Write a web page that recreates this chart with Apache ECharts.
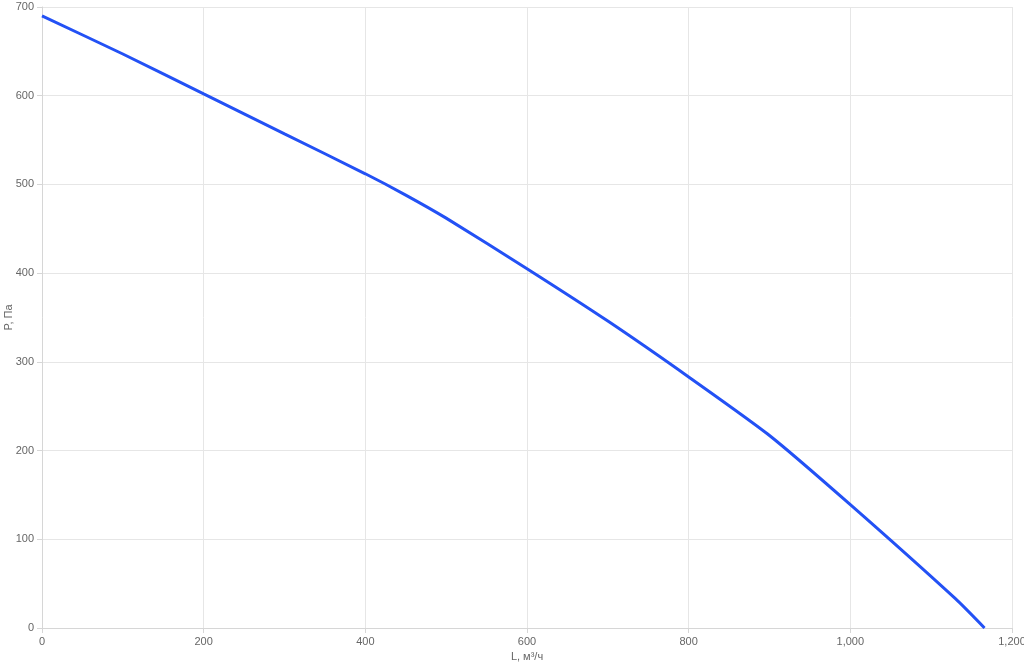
<!DOCTYPE html>
<html>
<head>
<meta charset="utf-8">
<script src="https://cdn.jsdelivr.net/npm/echarts@6/dist/echarts.min.js"></script>
<style>
  html, body { margin: 0; padding: 0; background: #fff; }
  #chart { width: 1024px; height: 666px; }
</style>
</head>
<body>
<div id="chart"></div>
<script>
// расход, м³/ч
const flow = [0, 100, 200, 300, 400, 450, 500, 600, 700, 800, 900, 1000, 1130, 1166]
// давление, Па
const pressure = [690, 647, 602, 557, 512, 488, 462, 405, 346, 283, 217, 139, 33, 0]

const gridColor = '#e6e6e6'
const labelColor = '#666'

const chart = echarts.init(document.getElementById('chart'))
chart.setOption({
  animation: false,
  grid: { left: 42, right: 12, top: 7, bottom: 38, containLabel: false, outerBoundsMode: 'none' },
  xAxis: {
    type: 'value',
    min: 0,
    max: 1200,
    interval: 200,
    name: 'L, м³/ч',
    nameLocation: 'middle',
    nameGap: 23,
    nameMoveOverlap: false,
    nameTextStyle: { color: labelColor, fontSize: 11, fontFamily: 'Arial' },
    axisLine: { show: true, lineStyle: { color: '#d6d6d6' } },
    axisTick: { show: true, length: 5, lineStyle: { color: '#d6d6d6' } },
    axisLabel: {
      color: labelColor, fontSize: 11, fontFamily: 'Arial', margin: 8,
      formatter: v => v.toLocaleString('en-US')
    },
    splitLine: { show: true, lineStyle: { color: gridColor } }
  },
  yAxis: {
    type: 'value',
    min: 0,
    max: 700,
    interval: 100,
    name: 'P, Па',
    nameLocation: 'middle',
    nameGap: 28,
    nameMoveOverlap: false,
    nameTextStyle: { color: labelColor, fontSize: 11, fontFamily: 'Arial' },
    axisLine: { show: true, lineStyle: { color: '#d6d6d6' } },
    axisTick: { show: true, length: 5, lineStyle: { color: '#d6d6d6' } },
    axisLabel: { color: labelColor, fontSize: 11, fontFamily: 'Arial', margin: 8 },
    splitLine: { show: true, lineStyle: { color: gridColor } }
  },
  series: [{
    type: 'line',
    data: flow.map((x, i) => [x, pressure[i]]),
    showSymbol: false,
    smooth: 0.2,
    lineStyle: { color: '#2351f5', width: 3 }
  }]
})
</script>
</body>
</html>
